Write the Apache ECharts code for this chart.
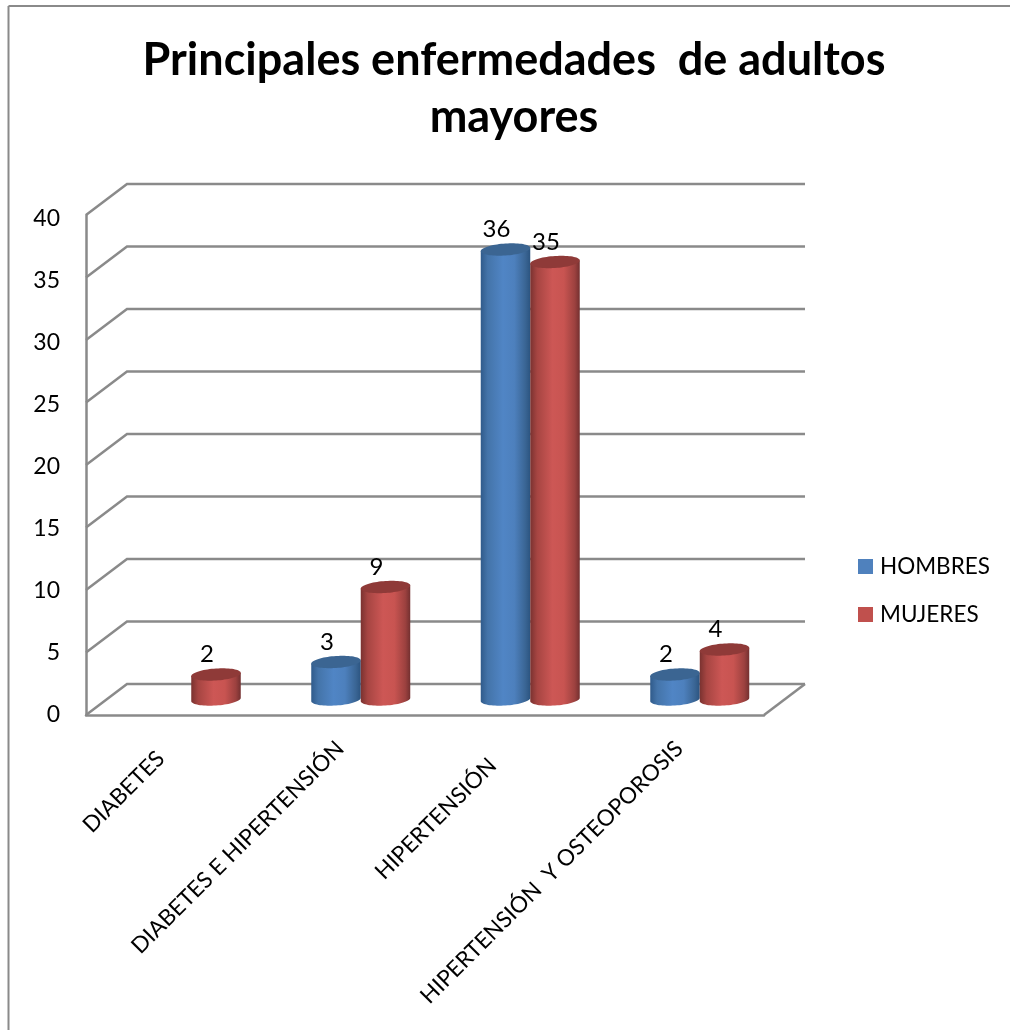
<!DOCTYPE html>
<html>
<head>
<meta charset="utf-8">
<title>Principales enfermedades de adultos mayores</title>
<script src="https://cdn.jsdelivr.net/npm/echarts@6/dist/echarts.min.js"></script>
<style>
    html, body { margin: 0; padding: 0; background: #fff; }
    #main { width: 1010px; height: 1030px; }
</style>
</head>
<body>
<div id="main"></div>
<script>
var categories = ['DIABETES', 'DIABETES E HIPERTENSIÓN', 'HIPERTENSIÓN', 'HIPERTENSIÓN  Y OSTEOPOROSIS'];
var hombres = [null, 3, 36, 2];
var mujeres = [2, 9, 35, 4];
var yTicks = [0, 5, 10, 15, 20, 25, 30, 35, 40];

var fontName = 'Lato';
var lineColor = '#8a8a8a';
var depthX = 41;          // back wall offset
var depthY = -31;
var barWidth = 49.5;
var labelPad = [14, 0, 24, 0];   // slide along the rotated text, Word does not end them all at the same place

function shade(stops) {
    return new echarts.graphic.LinearGradient(0, 0, 1, 0, stops);
}

var blueStyle = {
    legend: '#4f81bd',
    top: '#3b6592',
    body: shade([
        { offset: 0, color: '#305b8b' },
        { offset: 0.14, color: '#4474a9' },
        { offset: 0.45, color: '#5085c5' },
        { offset: 0.68, color: '#4d80bd' },
        { offset: 0.9, color: '#3a6594' },
        { offset: 1, color: '#2b5480' }
    ])
};
var redStyle = {
    legend: '#c0504d',
    top: '#8f3a38',
    body: shade([
        { offset: 0, color: '#7a3230' },
        { offset: 0.14, color: '#a64542' },
        { offset: 0.45, color: '#cd5755' },
        { offset: 0.68, color: '#c85451' },
        { offset: 0.9, color: '#9c413f' },
        { offset: 1, color: '#733030' }
    ])
};

// tilted ellipse arc, t in radians
function arcPoint(cx, cy, t) {
    var rx = barWidth / 2;
    var x = rx * Math.cos(t);
    return [cx + x, cy + 6 * Math.sin(t) - 0.065 * x];
}

function renderWall(params, api) {
    var box = params.coordSys;
    var y = api.coord([0, api.value(1)])[1];
    var children = [{
        type: 'polyline',
        shape: { points: [[box.x, y], [box.x + depthX, y + depthY], [box.x + box.width + depthX, y + depthY]] },
        style: { stroke: lineColor, lineWidth: 2.5, fill: null }
    }];
    if (api.value(1) === 0) {
        children.push({
            type: 'line',
            shape: { x1: box.x + box.width, y1: y, x2: box.x + box.width + depthX, y2: y + depthY },
            style: { stroke: lineColor, lineWidth: 2.5 }
        });
    }
    return { type: 'group', children: children };
}

function cylinderRenderer(side, look) {
    return function (params, api) {
        var value = api.value(1);
        if (isNaN(value)) {
            return;
        }
        var base = api.coord([api.value(0), 0]);
        var head = api.coord([api.value(0), value]);
        // columns stand at mid depth of the floor
        var cx = base[0] + depthX / 2 + side * barWidth / 2;
        var yBase = base[1] + depthY / 2;
        var yHead = head[1] + depthY / 2;

        var body = [arcPoint(cx, yHead, Math.PI)];
        var lid = [];
        var i;
        for (i = 0; i <= 36; i++) {
            body.push(arcPoint(cx, yBase, Math.PI - i * Math.PI / 36));
        }
        body.push(arcPoint(cx, yHead, 0));
        for (i = 0; i < 72; i++) {
            lid.push(arcPoint(cx, yHead, i * Math.PI / 36));
        }
        return {
            type: 'group',
            children: [
                { type: 'polygon', shape: { points: body }, style: { fill: look.body } },
                { type: 'polygon', shape: { points: lid }, style: { fill: look.top } },
                {
                    type: 'text',
                    x: cx - 9,
                    y: yHead - 20,
                    style: {
                        text: String(value),
                        fill: '#000',
                        font: '24px ' + fontName,
                        align: 'center',
                        verticalAlign: 'middle'
                    }
                }
            ]
        };
    };
}

function toPairs(list) {
    return list.map(function (v, i) { return [i, v]; });
}

var option = {
    animation: false,
    backgroundColor: '#fff',
    title: {
        text: 'Principales enfermedades  de adultos\nmayores',
        left: 509,
        top: 27,
        textAlign: 'center',
        textStyle: {
            fontFamily: fontName,
            fontWeight: 'bold',
            fontSize: 45,
            lineHeight: 57,
            color: '#000'
        }
    },
    legend: {
        orient: 'vertical',
        left: 858,
        top: 555,
        padding: 0,
        itemWidth: 15,
        itemHeight: 15,
        itemGap: 25,
        itemStyle: { borderWidth: 0 },
        icon: 'rect',
        data: ['HOMBRES', 'MUJERES'],
        textStyle: { fontFamily: fontName, fontSize: 22.5, color: '#000', padding: [0, 0, 0, 2] }
    },
    graphic: [
        // outer frame of the chart area
        { type: 'line', shape: { x1: 8.5, y1: 6, x2: 1010, y2: 6 }, style: { stroke: lineColor, lineWidth: 2 } },
        { type: 'line', shape: { x1: 8.5, y1: 6, x2: 8.5, y2: 1030 }, style: { stroke: lineColor, lineWidth: 2 } }
    ],
    // second grid only carries the tick labels, their spacing is a bit tighter than the wall
    grid: [
        { left: 86, top: 215, width: 678, height: 500 },
        { left: 86, top: 219, width: 678, height: 496 }
    ],
    xAxis: [
        {
            type: 'category',
            data: categories.map(function (name, i) {
                return { value: name, textStyle: { padding: [0, labelPad[i], 0, 0] } };
            }),
            axisLine: { lineStyle: { color: lineColor, width: 2.5 } },
            axisTick: { show: false },
            axisLabel: {
                interval: 0,
                rotate: 45,
                margin: 30,
                fontFamily: fontName,
                fontSize: 22.5,
                color: '#000'
            }
        },
        { type: 'category', gridIndex: 1, data: categories, show: false }
    ],
    yAxis: [
        {
            type: 'value',
            min: 0,
            max: 40,
            interval: 5,
            axisLine: { show: true, lineStyle: { color: lineColor, width: 2.5 } },
            axisTick: { show: false },
            axisLabel: { show: false },
            splitLine: { show: false }
        },
        {
            type: 'value',
            gridIndex: 1,
            min: 0,
            max: 40,
            interval: 5,
            axisLine: { show: false },
            axisTick: { show: false },
            splitLine: { show: false },
            axisLabel: {
                margin: 26,
                fontFamily: fontName,
                fontSize: 23,
                color: '#000'
            }
        }
    ],
    series: [
        {
            name: 'pared',
            type: 'custom',
            renderItem: renderWall,
            data: yTicks.map(function (v) { return [0, v]; }),
            encode: { x: 0, y: 1 },
            silent: true,
            z: 1
        },
        {
            name: 'HOMBRES',
            type: 'custom',
            renderItem: cylinderRenderer(-1, blueStyle),
            itemStyle: { color: blueStyle.legend },
            data: toPairs(hombres),
            encode: { x: 0, y: 1 },
            z: 2
        },
        {
            name: 'MUJERES',
            type: 'custom',
            renderItem: cylinderRenderer(1, redStyle),
            itemStyle: { color: redStyle.legend },
            data: toPairs(mujeres),
            encode: { x: 0, y: 1 },
            z: 3
        }
    ]
};

var myChart = echarts.init(document.getElementById('main'));
myChart.setOption(option);
</script>
</body>
</html>
